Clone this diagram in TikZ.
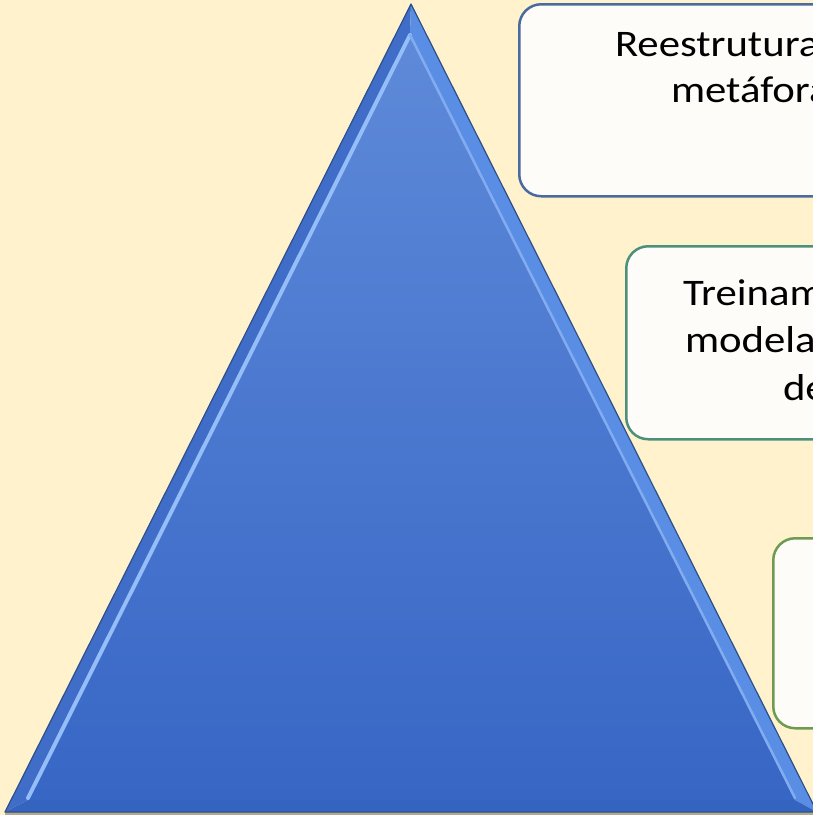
\documentclass[tikz,border=0pt]{standalone}
\usepackage{fontspec}
\setmainfont{Carlito}
\definecolor{bg}{HTML}{FFF2CC}
\definecolor{triTop}{HTML}{5F8AD9}
\definecolor{triBot}{HTML}{3766C5}
\definecolor{triEdge}{HTML}{2E4F8A}
\definecolor{bandL}{HTML}{3F6DC8}
\definecolor{bandR}{HTML}{5A8DE4}
\definecolor{bandB}{HTML}{3564C0}
\definecolor{hiliteL}{HTML}{95BDF8}
\definecolor{hiliteR}{HTML}{82ACF0}
\definecolor{boxfill}{HTML}{FDFCF8}
\definecolor{bdA}{HTML}{4A6B9E}
\definecolor{bdB}{HTML}{4E8F7C}
\definecolor{bdC}{HTML}{6F9A52}
\tikzset{
  listbox/.style={draw, line width=2.5pt, fill=boxfill, rounded corners=22pt,
    inner sep=0pt, anchor=north west},
  boxtext/.style={anchor=base west, inner sep=0pt, outer sep=0pt,
    font=\fontsize{37.5}{46}\selectfont, text=black},
}
\newcommand{\wide}[1]{\scalebox{1.14}[1]{#1}}
\begin{document}
\begin{tikzpicture}[x=1pt,y=-1pt]
\useasboundingbox (0,0) rectangle (813,815);
\clip (0,0) rectangle (813,815);
\fill[bg] (0,0) rectangle (813,815);
% pyramid
\fill[black!30!bg] (5,812) -- (817,812) -- (817,815) -- (5,815) -- cycle;
\shade[top color=triTop, bottom color=triBot] (410,33) -- (28,800) -- (795,800) -- cycle;
\fill[bandL] (411,4) -- (5,812) -- (28,800) -- (410,33) -- cycle;
\fill[bandR] (411,4) -- (817,812) -- (795,800) -- (410,33) -- cycle;
\fill[bandB] (5,812) -- (817,812) -- (795,800) -- (28,800) -- cycle;
\draw[hiliteL, line width=4pt, line cap=round] (410,35) -- (28,798);
\draw[hiliteR, line width=2.5pt, line cap=round] (410,35) -- (795,798);
\draw[triEdge, line width=1.2pt, line join=round] (411,4) -- (5,812) -- (817,812) -- cycle;
% boxes
\node[listbox, draw=bdA, minimum width=480pt, minimum height=192pt] (b1) at (518,3) {};
\node[listbox, draw=bdB, minimum width=400pt, minimum height=193pt] (b2) at (625,245) {};
\node[listbox, draw=bdC, minimum width=300pt, minimum height=190pt] (b3) at (772,537) {};
% texts
\node[boxtext] (t1a) at (615,56) {\wide{Reestrutura}};
\node[boxtext] (t1b) at (671,102) {\wide{metáfora}};
\node[boxtext] (t2a) at (683,305) {\wide{Treinam}};
\node[boxtext] (t2b) at (685,352) {\wide{modela}};
\node[boxtext] (t2c) at (783,400) {\wide{de}};
\end{tikzpicture}
\end{document}
